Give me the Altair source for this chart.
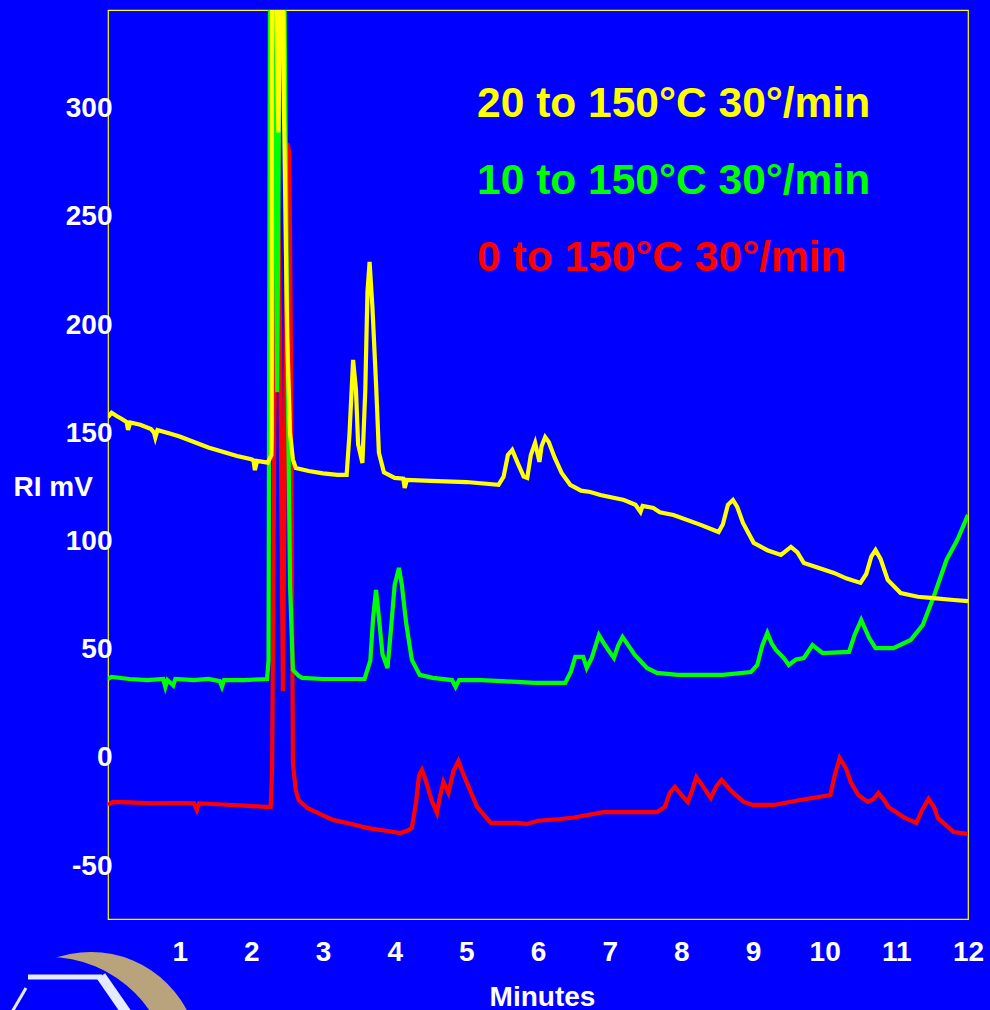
import altair as alt
import pandas as pd

# ---- data (time in minutes, signal in RI mV) ----
yellow = [(0.0, 157.5), (0.05, 159.5), (0.12, 158), (0.2, 156.5), (0.26, 155.2), (0.28, 151.6),
          (0.31, 155), (0.45, 154), (0.6, 152), (0.64, 150.5), (0.66, 148), (0.69, 151.5),
          (0.85, 150), (1.0, 148.5), (1.2, 146), (1.4, 143.5), (1.6, 141.5), (1.8, 139.5),
          (2.0, 138), (2.03, 137.5), (2.05, 133), (2.08, 137.3), (2.23, 136.5), (2.28, 140),
          (2.285, 150), (2.29, 600), (2.30, 700), (2.34, 360), (2.377, 289), (2.41, 360),
          (2.43, 700), (2.44, 400), (2.455, 300), (2.50, 195), (2.54, 150), (2.58, 138),
          (2.62, 134), (2.8, 132.6), (3.0, 131.5), (3.2, 130.8),
          (3.33, 130.8), (3.37, 150), (3.42, 183.9), (3.46, 170), (3.49, 145), (3.55, 136.3),
          (3.59, 170), (3.62, 215), (3.65, 229.2), (3.69, 208), (3.74, 173), (3.78, 141),
          (3.85, 132), (4.0, 129.4), (4.12, 129), (4.14, 124.8), (4.17, 128.5), (4.5, 128),
          (5.0, 127.5), (5.45, 126.2), (5.52, 130), (5.58, 140), (5.64, 142.3), (5.72, 136),
          (5.80, 130), (5.85, 129.4), (5.90, 140), (5.96, 145.6), (6.02, 136.8), (6.05, 144),
          (6.10, 148.3), (6.15, 146), (6.23, 139), (6.33, 131.7), (6.45, 126.2), (6.6, 123.5),
          (6.73, 122.9), (6.87, 121.5), (7.2, 119.2), (7.36, 117), (7.43, 113.7), (7.46, 116.5),
          (7.61, 115.5), (7.7, 113.5), (7.89, 112.3), (8.27, 107.7), (8.52, 104.4), (8.58, 108),
          (8.65, 117), (8.72, 119.2), (8.78, 116), (8.86, 108.6), (9.01, 99.4), (9.2, 96),
          (9.39, 93.8), (9.53, 97.5), (9.62, 95), (9.71, 90.1), (9.9, 88), (10.13, 85.5),
          (10.3, 83), (10.50, 80.9), (10.58, 85), (10.65, 93), (10.71, 96.1), (10.78, 92),
          (10.88, 82.3), (11.06, 76.2), (11.3, 74.5), (11.52, 73.9), (11.8, 73), (12.0, 72.5)]

green = [(0.0, 36.5), (0.05, 37.5), (0.3, 36.5), (0.55, 36), (0.77, 36.5), (0.8, 32.8),
         (0.83, 36), (0.91, 33.5), (0.94, 36.5), (1.2, 36), (1.4, 36.5), (1.56, 35.5),
         (1.59, 33), (1.62, 36), (1.9, 36), (2.22, 36.5), (2.24, 45), (2.26, 360), (2.30, 420),
         (2.36, 169), (2.41, 420), (2.46, 360), (2.50, 200), (2.54, 80), (2.58, 40.7),
         (2.66, 38), (2.71, 37), (3.0, 36.5), (3.3, 36.5), (3.58, 36.5), (3.66, 45), (3.70, 65),
         (3.74, 77.6), (3.78, 65), (3.83, 48), (3.90, 41.6), (3.95, 60), (4.00, 80), (4.06, 87.8),
         (4.10, 80), (4.16, 62.4), (4.24, 45.3), (4.35, 38.4), (4.53, 37), (4.8, 36), (4.85, 32.8),
         (4.9, 36), (5.2, 36), (5.5, 35.5), (5.95, 34.7), (6.38, 34.7), (6.46, 40), (6.52, 46.7),
         (6.63, 46.7), (6.68, 41.6), (6.75, 46.2), (6.85, 56.8), (6.92, 53), (6.98, 49.9),
         (7.06, 46.2), (7.12, 52), (7.18, 55.9), (7.26, 52), (7.35, 47.6), (7.52, 41.6),
         (7.66, 39.3), (7.95, 38.4), (8.58, 38.4), (8.97, 39.7), (9.06, 43), (9.13, 52),
         (9.20, 57.8), (9.26, 53), (9.32, 49.9), (9.43, 46.2), (9.50, 43), (9.6, 45.5),
         (9.71, 46.2), (9.83, 52.2), (9.97, 48.5), (10.34, 49), (10.42, 57), (10.51, 63.8),
         (10.62, 55.5), (10.71, 50.8), (10.96, 50.8), (11.20, 54.5), (11.37, 61.5),
         (11.54, 76.2), (11.70, 91.5), (11.85, 100.7), (12.0, 112.3)]

red = [(0.0, -21.7), (0.07, -20.3), (0.3, -20.5), (0.6, -21), (1.0, -20.8), (1.2, -21),
       (1.24, -24), (1.27, -21), (1.6, -21.5), (1.9, -22), (2.2, -22.6), (2.27, -22.6),
       (2.29, -5), (2.32, 150), (2.36, 290), (2.40, 200), (2.44, 31), (2.47, 150), (2.50, 284),
       (2.53, 280), (2.55, 200), (2.58, -2.3), (2.62, -15), (2.66, -19.4), (2.78, -23.1),
       (3.0, -26.5), (3.14, -28.6), (3.4, -30.5), (3.61, -32.3), (3.85, -33.5), (4.08, -34.7),
       (4.18, -33.5), (4.24, -32.3), (4.3, -20), (4.34, -8), (4.38, -5.5), (4.43, -10),
       (4.52, -20), (4.59, -25.4), (4.63, -18), (4.68, -11.1), (4.75, -16.2), (4.82, -6),
       (4.89, -1.4), (4.94, -6), (5.01, -11.6), (5.15, -22.6), (5.34, -30.0), (5.5, -30),
       (5.71, -30), (5.85, -30.5), (6.0, -29), (6.31, -28.2), (6.5, -27.5), (6.91, -25),
       (7.3, -25), (7.5, -25), (7.66, -25), (7.77, -22.6), (7.84, -16), (7.91, -13.4),
       (8.0, -17), (8.09, -20.3), (8.15, -15), (8.21, -8.8), (8.3, -13), (8.41, -18.5),
       (8.49, -13), (8.56, -10.2), (8.71, -15.7), (8.87, -20.3), (9.0, -21.7), (9.29, -21.7),
       (9.66, -19.4), (10.08, -17.1), (10.14, -8), (10.21, 0), (10.3, -5), (10.37, -11.6),
       (10.47, -17.1), (10.60, -20.3), (10.68, -19), (10.75, -16.2), (10.82, -19),
       (10.89, -22.6), (11.10, -27.3), (11.28, -30.0), (11.36, -24), (11.45, -18.9),
       (11.53, -23), (11.58, -27.7), (11.80, -34.2), (12.0, -35.1)]

labels = ["20 to 150°C 30°/min", "10 to 150°C 30°/min", "0 to 150°C 30°/min"]
label_colors = ["#FFFF00", "#00FF00", "#FF0000"]
label_t = [5.15, 5.15, 5.15]
label_v = [296.2, 260.6, 225.0]

x_ticks = list(range(1, 13))
y_ticks = [-50, 0, 50, 100, 150, 200, 250, 300]

FONT = "Liberation Sans"
BLUE = "#0000FF"


def frame(pairs):
    return pd.DataFrame(pairs, columns=["t", "v"])


X = alt.X("t:Q",
          scale=alt.Scale(domain=[0, 12], nice=False, zero=False),
          axis=alt.Axis(values=x_ticks, title="Minutes", labelPadding=33, labelBaseline="middle",
                        labelFlush=False, labelOverlap=False, labelExpr="'' + datum.value",
                        titleX=434, titleY=78, titleBaseline="middle", titleAlign="center"))
Y = alt.Y("v:Q",
          scale=alt.Scale(domain=[-74.4, 345.6], nice=False, zero=False),
          axis=alt.Axis(values=y_ticks, title="RI mV", labelPadding=-4, labelFlush=False,
                        labelOverlap=False, labelExpr="'' + datum.value",
                        titleAngle=0, titleX=-95, titleY=477, titleAlign="left",
                        titleBaseline="middle"))


def trace(pairs, color):
    return alt.Chart(frame(pairs)).mark_line(
        color=color, strokeWidth=4.2, clip=True, interpolate="linear"
    ).encode(x=X, y=Y, order="t:Q")


one = pd.DataFrame({"k": [0]})
logo_tan = alt.Chart(one).mark_arc(color="#B9A37C", radius=108, theta=0, theta2=6.2832).encode(
    x=alt.value(-17), y=alt.value(1050))
logo_cut = alt.Chart(one).mark_arc(color=BLUE, radius=123, theta=0, theta2=6.2832).encode(
    x=alt.value(-60), y=alt.value(1070))
logo_bar = alt.Chart(one).mark_rule(color="#E4EAFF", strokeWidth=5).encode(
    x=alt.value(-80), x2=alt.value(-6), y=alt.value(967), y2=alt.value(967))
logo_diag = alt.Chart(one).mark_rule(color="#E4EAFF", strokeWidth=10).encode(
    x=alt.value(-7), x2=alt.value(20), y=alt.value(966), y2=alt.value(1005))
logo_slash = alt.Chart(one).mark_rule(color="#E4EAFF", strokeWidth=3).encode(
    x=alt.value(-96), x2=alt.value(-82), y=alt.value(1002), y2=alt.value(978))

text_df = pd.DataFrame({"label": labels, "color": label_colors, "t": label_t, "v": label_v})
texts = alt.Chart(text_df).mark_text(
    align="left", baseline="alphabetic", font=FONT, fontSize=42.5, fontWeight="bold"
).encode(
    x=alt.X("t:Q", scale=alt.Scale(domain=[0, 12], nice=False, zero=False)),
    y=alt.Y("v:Q", scale=alt.Scale(domain=[-74.4, 345.6], nice=False, zero=False)),
    text="label:N",
    color=alt.Color("color:N", scale=None),
)

chart = alt.layer(
    trace(red, "#FF0000"),
    trace(green, "#00FF00"),
    trace(yellow, "#FFFF00"),
    texts,
    logo_tan, logo_cut, logo_bar, logo_diag, logo_slash,
).properties(
    width=860, height=909,
    background=BLUE,
    autosize=alt.AutoSizeParams(type="none"),
    padding={"left": 108, "top": 10, "right": 22, "bottom": 91},
).configure_view(
    stroke="#FFFF00", strokeWidth=1.2, fill=BLUE
).configure_axis(
    labelFont=FONT, labelFontSize=28, labelFontWeight="bold", labelColor="white",
    titleFont=FONT, titleFontSize=28, titleFontWeight="bold", titleColor="white",
    domain=False, ticks=False, tickSize=0, grid=False,
)

chart.save("out.html", embed_options={"renderer": "svg", "actions": False})
